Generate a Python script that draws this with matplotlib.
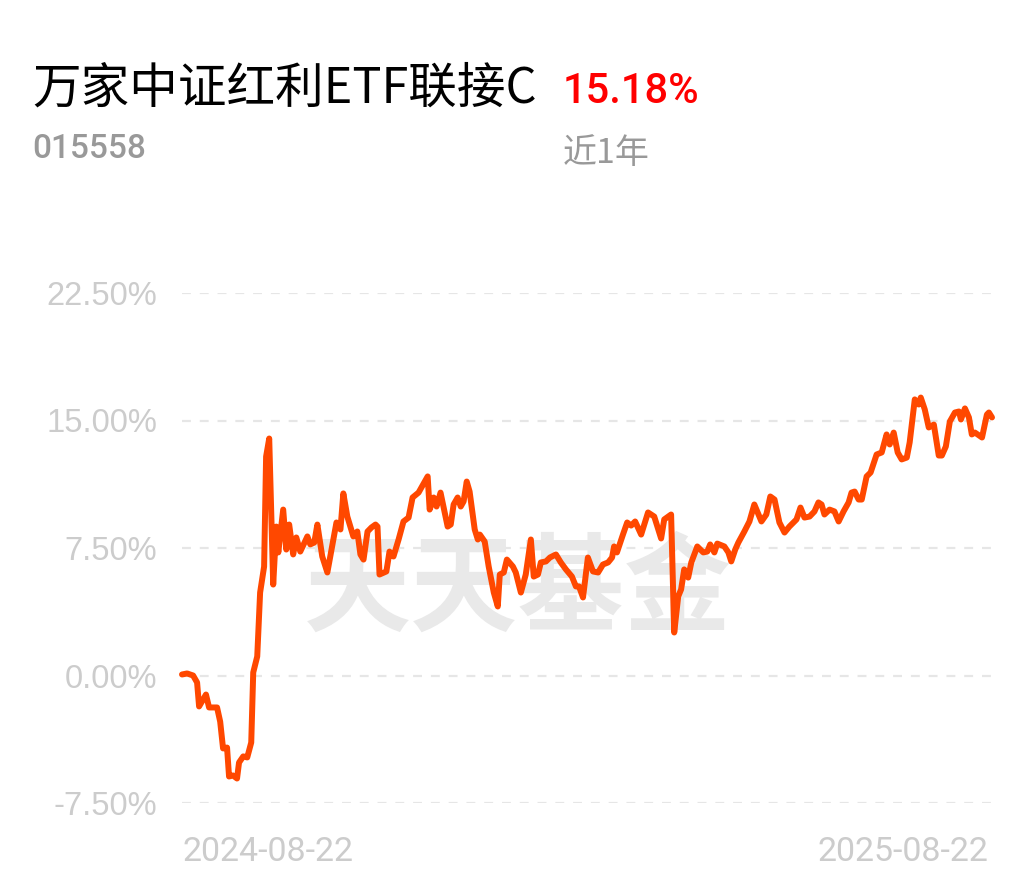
import matplotlib.pyplot as plt

# 近1年 累计收益 (%), x = days since 2024-08-22
days = [0, 2.3, 5, 6.8, 7.7, 10.8, 12.2, 15.8, 17.2, 18.5, 20.3, 21.2, 23, 24.8, 25.7,
        27.6, 29.4, 31.2, 32.1, 33.9, 35.2, 37, 37.9, 39.3, 41.1, 42.5, 43.4, 45.6, 47,
        48.3, 50.1, 51.5, 53.3, 56.5, 57.8, 59.6, 61, 63.2, 65.5, 69.6, 71.4, 72.7, 74.5,
        77.2, 79, 80.4, 81.8, 83.6, 85.4, 87.2, 88.1, 89, 92.1, 93.5, 95.3, 97.6, 99.8,
        102.1, 103.9, 106.6, 110.7, 111.6, 113.4, 114.7, 116.5, 119.7, 121.1, 122.4,
        124.2, 125.6, 126.9, 128.3, 129.6, 131.9, 133.3, 134.2, 136.4, 138.2, 140.5,
        142.3, 143.2, 145, 146.4, 149.1, 150.4, 152.7, 154.9, 157.2, 158.5, 160.4, 161.7,
        164, 165.8, 168.5, 170.7, 173, 175.7, 177.5, 178.9, 180.7, 182.9, 185.2, 187.5,
        189.7, 192, 193.8, 194.7, 196, 198.7, 200.6, 202.4, 204.2, 206.9, 210, 212.8,
        214.6, 215.9, 217.3, 220.4, 221.8, 223.6, 224.9, 226.3, 228.1, 229.5, 232.2,
        234.9, 236.7, 238, 239.9, 241.2, 244.4, 246.2, 247.5, 249.3, 250.7, 253.4, 255.7,
        257.9, 261.1, 263.3, 265.1, 267, 269.2, 271.5, 273.7, 276.9, 278.7, 280.5, 282.8,
        285, 286.8, 288.2, 289.5, 291.8, 294, 295.9, 298.1, 300.4, 301.7, 303.1, 304.9,
        306.3, 308.5, 310.3, 313, 315.3, 317.5, 318.9, 320.7, 322.5, 324.3, 326.6, 327.9,
        330.2, 332, 332.9, 334.7, 336.5, 338.8, 341, 342.4, 344.2, 346, 348.3, 350.1, 351,
        352.8, 354.6, 355.9, 357.3, 360.5, 362.7, 363.6, 365]
ret = [0.06, 0.12, 0.0, -0.41, -1.82, -1.12, -1.88, -1.88, -2.71, -4.29, -4.24, -5.94,
       -5.88, -6.06, -5.12, -4.76, -4.82, -3.94, 0.18, 1.12, 4.88, 6.41, 12.88, 13.94,
       5.35, 8.76, 7.24, 9.76, 7.41, 8.88, 7.12, 8.12, 7.29, 8.18, 7.71, 7.82, 8.88, 7.0,
       6.06, 9.0, 8.59, 10.71, 9.35, 8.18, 8.47, 7.12, 6.82, 8.47, 8.71, 8.88, 8.76, 5.94,
       6.12, 7.29, 7.0, 8.0, 9.06, 9.29, 10.47, 10.76, 11.71, 9.76, 10.47, 9.94, 10.76,
       8.76, 8.88, 10.06, 10.47, 9.94, 10.24, 11.41, 10.82, 8.59, 8.0, 8.29, 7.88, 6.41,
       4.88, 4.06, 5.94, 6.06, 6.82, 6.41, 6.06, 4.88, 5.94, 8.0, 5.82, 5.94, 6.65, 6.71,
       6.94, 7.12, 6.65, 6.24, 5.82, 5.24, 5.24, 4.59, 6.94, 6.12, 6.06, 6.53, 6.65, 6.94,
       7.59, 7.24, 8.29, 9.0, 8.82, 9.06, 8.29, 9.59, 9.35, 8.59, 8.06, 9.18, 9.47, 2.53,
       4.65, 5.06, 6.24, 5.76, 6.65, 7.59, 7.24, 7.29, 7.71, 7.24, 7.76, 7.59, 7.24, 6.71,
       7.41, 7.82, 8.47, 9.06, 10.06, 9.06, 9.47, 10.53, 10.35, 9.0, 8.41, 8.76, 9.18,
       9.88, 9.29, 9.35, 9.65, 10.18, 10.06, 9.47, 9.76, 9.65, 9.06, 9.65, 10.18, 10.76,
       10.82, 10.35, 10.35, 11.71, 11.94, 13.0, 13.12, 14.18, 13.59, 14.29, 13.12, 12.71,
       12.82, 13.71, 16.24, 15.94, 16.35, 15.65, 14.59, 14.76, 12.94, 12.94, 13.47, 14.94,
       15.47, 15.53, 15.06, 15.71, 15.18, 14.18, 14.29, 14.0, 15.35, 15.47, 15.18]

yticks = [-7.5, 0, 7.5, 15, 22.5]
ytick_labels = ['-7.50%', '0.00%', '7.50%', '15.00%', '22.50%']
date_labels = ['2024-08-22', '2025-08-22']
title = '万家中证红利ETF联接C'
code = '015558'
period_ret = '15.18%'
period = '近1年'

W, H = 1035, 881
fig = plt.figure(figsize=(W / 100, H / 100), dpi=100)
fig.patch.set_facecolor('white')

ax = fig.add_axes([182 / W, 1 - 803 / H, (992 - 182) / W, (803 - 293) / H])
ax.set_xlim(0, 365)
ax.set_ylim(-7.5, 22.5)

for y in yticks:
    ax.axhline(y, color='#e6e6e6', lw=1.6, ls=(0, (4, 4)), zorder=0)

ax.text(0.415, 0.415, '天天基金', transform=ax.transAxes, ha='center', va='center',
        fontsize=77, fontweight='bold', color='#e9e9e9',
        family=['Noto Sans CJK SC', 'DejaVu Sans'], zorder=1)

ax.plot(days, ret, color='#ff4800', lw=4.3, solid_joinstyle='round',
        solid_capstyle='round', zorder=3, clip_on=False)

ax.set_yticks(yticks)
ax.set_yticklabels(ytick_labels, family='Liberation Sans', fontsize=23.5, color='#cccccc')
ax.tick_params(axis='y', length=0, pad=18)
ax.set_xticks([])
for s in ax.spines.values():
    s.set_visible(False)

cjk = ['Noto Sans CJK SC', 'DejaVu Sans']
fig.text(32 / W, 1 - 103 / H, title, fontsize=35, color='black', family=cjk,
         ha='left', va='baseline')
fig.text(563 / W, 1 - 103 / H, period_ret, fontsize=30, color='#ff0000', family='Roboto',
         fontweight='medium', ha='left', va='baseline')
fig.text(32 / W, 1 - 158 / H, code, fontsize=24, color='#999999', family='Roboto',
         fontweight='medium', ha='left', va='baseline')
fig.text(563 / W, 1 - 163 / H, period, fontsize=24.5, color='#999999', family=cjk,
         ha='left', va='baseline')

fig.text(182 / W, 1 - 861 / H, date_labels[0], fontsize=24.5, color='#cccccc',
         family='Roboto', ha='left', va='baseline')
fig.text(988 / W, 1 - 861 / H, date_labels[1], fontsize=24.5, color='#cccccc',
         family='Roboto', ha='right', va='baseline')

fig.savefig('out.png', dpi=100, facecolor='white')
